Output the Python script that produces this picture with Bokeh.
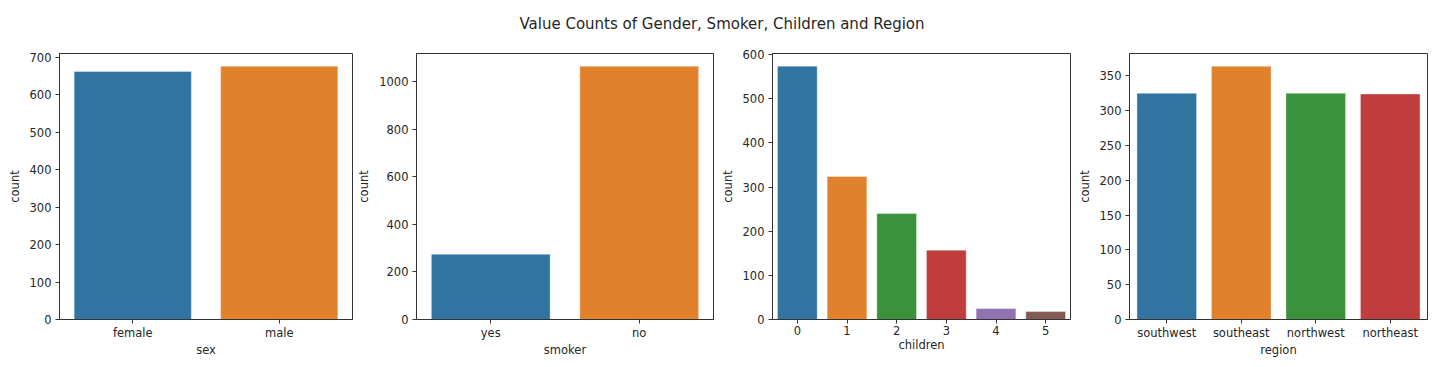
from bokeh.plotting import figure
from bokeh.layouts import column, row
from bokeh.models import Range1d, FixedTicker, ColumnDataSource
from bokeh.embed import file_html
from bokeh.resources import INLINE

sex_cats = ["female", "male"]
sex_counts = [662, 676]
smoker_cats = ["yes", "no"]
smoker_counts = [274, 1064]
children_cats = ["0", "1", "2", "3", "4", "5"]
children_counts = [574, 324, 240, 157, 25, 18]
region_cats = ["southwest", "southeast", "northwest", "northeast"]
region_counts = [325, 364, 325, 324]

palette = ["#3274a1", "#e1812c", "#3a923a", "#c03d3e", "#9372b2", "#845b53"]
yticks = [list(range(0, 701, 100)), list(range(0, 1001, 200)),
          list(range(0, 601, 100)), list(range(0, 351, 50))]
xlabels = ["sex", "smoker", "children", "region"]

FONT = "DejaVu Sans"
TXT = "#262626"
FS = "11.5px"

def make(cats, counts, xlabel, ticks, width, left, right):
    src = ColumnDataSource(dict(x=cats, y=counts, c=palette[:len(cats)]))
    p = figure(x_range=cats, y_range=Range1d(0, max(counts) * 1.05),
               width=width, height=320, toolbar_location=None,
               output_backend="svg", min_border_left=left,
               min_border_right=right, min_border_top=8, min_border_bottom=46)
    p.vbar(x="x", top="y", width=0.8, fill_color="c", line_color="white",
           line_width=0.6, line_alpha=0.6, source=src)
    p.xgrid.grid_line_color = None
    p.ygrid.grid_line_color = None
    p.outline_line_color = "#333333"
    p.outline_line_width = 1
    p.yaxis.ticker = FixedTicker(ticks=ticks)
    p.xaxis.axis_label = xlabel
    p.yaxis.axis_label = "count"
    for ax in (p.xaxis, p.yaxis):
        ax.axis_line_color = "#333333"
        ax.major_tick_line_color = "#333333"
        ax.major_tick_out = 4
        ax.major_tick_in = 0
        ax.minor_tick_line_color = None
        ax.major_label_text_font = FONT
        ax.major_label_text_font_size = FS
        ax.major_label_text_color = TXT
        ax.axis_label_text_font = FONT
        ax.axis_label_text_font_size = FS
        ax.axis_label_text_font_style = "normal"
        ax.axis_label_text_color = TXT
    p.xaxis.major_label_standoff = 2
    p.xaxis.axis_label_standoff = 0
    p.yaxis.major_label_standoff = 4
    p.yaxis.axis_label_standoff = 5
    return p

figs = [
    make(sex_cats, sex_counts, xlabels[0], yticks[0], 354, 59, 2),
    make(smoker_cats, smoker_counts, xlabels[1], yticks[1], 362, 62, 3),
    make(children_cats, children_counts, xlabels[2], yticks[2], 357, 56, 3),
    make(region_cats, region_counts, xlabels[3], yticks[3], 370, 56, 16),
]

t = figure(width=1443, height=45, toolbar_location=None, output_backend="svg",
           title="Value Counts of Gender, Smoker, Children and Region",
           min_border_top=32, min_border_bottom=0, min_border_left=0,
           min_border_right=0, x_range=Range1d(0, 1), y_range=Range1d(0, 1))
t.title.align = "center"
t.title.standoff = 0
t.title.text_font = FONT
t.title.text_font_size = "15px"
t.title.text_font_style = "normal"
t.title.text_color = TXT
t.xaxis.visible = False
t.yaxis.visible = False
t.grid.visible = False
t.outline_line_color = None

layout = column(t, row(*figs))
open("out.html", "w").write(file_html(layout, INLINE))
